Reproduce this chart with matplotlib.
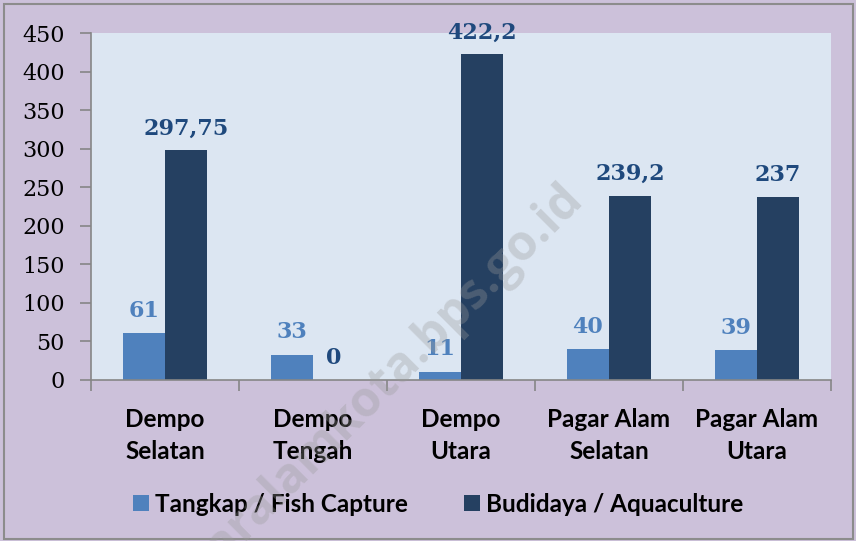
import matplotlib
matplotlib.use("Agg")
import matplotlib.pyplot as plt
from matplotlib.patches import Rectangle
import numpy as np

kategori = ["Dempo\nSelatan", "Dempo\nTengah", "Dempo\nUtara", "Pagar Alam\nSelatan", "Pagar Alam\nUtara"]
tangkap = [61, 33, 11, 40, 39]
budidaya = [297.75, 0, 422.2, 239.2, 237]
label_tangkap = ["61", "33", "11", "40", "39"]
label_budidaya = ["297,75", "0", "422,2", "239,2", "237"]
yticks = [0, 50, 100, 150, 200, 250, 300, 350, 400, 450]

c_light = "#4F81BD"
c_dark = "#254061"
c_lab_light = "#4F81BD"
c_lab_dark = "#1F497D"

fig = plt.figure(figsize=(8.56, 5.41), dpi=100, facecolor="#CCC1DA")
fig.patches.append(Rectangle((0.005, 0.004), 0.991, 0.989, transform=fig.transFigure,
                             fill=False, edgecolor="#8C8C8C", linewidth=1.5))
ax = fig.add_axes([0.1063, 0.2976, 0.8645, 0.6414])
ax.set_facecolor("#DCE6F2")

x = np.arange(len(kategori))
w = 0.284
ax.bar(x - w / 2, tangkap, w, color=c_light, label="Tangkap / Fish Capture")
ax.bar(x + w / 2, budidaya, w, color=c_dark, label="Budidaya / Aquaculture")

for xi, v, t in zip(x, tangkap, label_tangkap):
    ax.annotate(t, (xi - w / 2, v), xytext=(0, 8), textcoords="offset points",
                ha="center", va="bottom", color=c_lab_light,
                fontsize=16, fontweight="bold", family="DejaVu Serif")
for xi, v, t in zip(x, budidaya, label_budidaya):
    ax.annotate(t, (xi + w / 2, v), xytext=(0, 8), textcoords="offset points",
                ha="center", va="bottom", color=c_lab_dark,
                fontsize=16, fontweight="bold", family="DejaVu Serif")

ax.set_xlim(-0.5, len(kategori) - 0.5)
ax.set_ylim(0, 450)
ax.set_yticks(yticks)
ax.set_yticklabels([str(v) for v in yticks], family="DejaVu Serif", fontsize=16)
ax.tick_params(axis="y", direction="out", length=8, width=1.2, color="#868686", pad=11)

ax.set_xticks(x)
ax.set_xticklabels(kategori, family="Lato", fontweight="bold", fontsize=17.5, linespacing=1.5)
ax.set_xticks(np.arange(-0.5, len(kategori)), minor=True)
ax.tick_params(axis="x", which="major", length=0, pad=20)
ax.tick_params(axis="x", which="minor", direction="out", length=8, width=1.2, color="#868686")

for s in ["top", "right"]:
    ax.spines[s].set_visible(False)
for s in ["left", "bottom"]:
    ax.spines[s].set_color("#868686")
    ax.spines[s].set_linewidth(1.2)

ax.legend(loc="center", bbox_to_anchor=(0.512, 0.068), bbox_transform=fig.transFigure,
          ncol=2, frameon=False, prop={"family": "Lato", "weight": "bold", "size": 17.5},
          handlelength=0.65, handleheight=0.65, handletextpad=0.25, columnspacing=2.3)

# watermark, partly running off the bottom edge as in the original
fig.text(0.425, 0.255, "pagaralamkota.bps.go.id", rotation=45, ha="center", va="center",
         fontsize=35, fontweight="bold", family="Open Sans", color="#9A9A9A", alpha=0.33)

fig.savefig("out.png", dpi=100, facecolor=fig.get_facecolor())
